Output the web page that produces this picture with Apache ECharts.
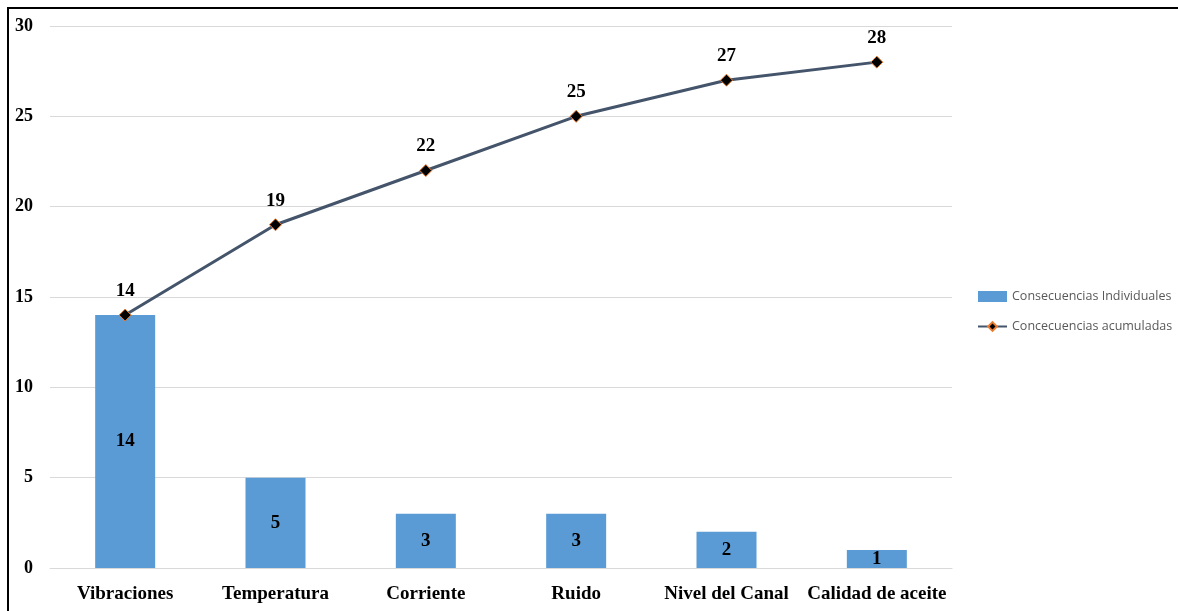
<!DOCTYPE html>
<html>
<head>
<meta charset="utf-8">
<script src="https://cdn.jsdelivr.net/npm/echarts@6/dist/echarts.min.js"></script>
<style>
  html, body { margin: 0; padding: 0; background: #fff; }
  #chart { width: 1178px; height: 611px; }
</style>
</head>
<body>
<div id="chart"></div>
<script>
// Pareto data: individual counts per cause and the running total
const categories = ['Vibraciones', 'Temperatura', 'Corriente', 'Ruido', 'Nivel del Canal', 'Calidad de aceite'];
const individual = [14, 5, 3, 3, 2, 1];
const cumulative = [14, 19, 22, 25, 27, 28];
const yTicks = [0, 5, 10, 15, 20, 25, 30];

const serif = '"Liberation Serif", "Times New Roman", serif';

const chart = echarts.init(document.getElementById('chart'), null, { renderer: 'canvas' });
chart.setOption({
  backgroundColor: '#ffffff',
  animation: false,
  graphic: [{
    type: 'polyline',
    shape: { points: [[8, 611], [8, 8], [1178, 8]] },
    style: { stroke: '#000000', lineWidth: 2, fill: null }
  }],
  grid: { left: 50, right: 226, top: 26, bottom: 43, containLabel: false },
  legend: {
    orient: 'vertical',
    left: 977,
    top: 290,
    padding: 0,
    itemGap: 17,
    itemWidth: 29,
    itemHeight: 11,
    textStyle: { fontFamily: '"Open Sans", "Liberation Sans", sans-serif', fontSize: 12.5, color: '#595959' },
    data: [
      { name: 'Consecuencias Individuales', icon: 'rect' },
      { name: 'Concecuencias acumuladas' }
    ]
  },
  xAxis: {
    type: 'category',
    data: categories,
    axisTick: { show: false },
    axisLine: { show: true, lineStyle: { color: '#D9D9D9', width: 1 } },
    axisLabel: { interval: 0, fontFamily: serif, fontWeight: 'bold', fontSize: 19, color: '#000', margin: 17 }
  },
  yAxis: {
    type: 'value',
    min: yTicks[0],
    max: yTicks[yTicks.length - 1],
    interval: 5,
    axisLine: { show: false },
    axisTick: { show: false },
    splitLine: { lineStyle: { color: '#D9D9D9', width: 1 } },
    axisLabel: { fontFamily: serif, fontWeight: 'bold', fontSize: 18, color: '#000', margin: 17 }
  },
  series: [
    {
      name: 'Consecuencias Individuales',
      type: 'bar',
      data: individual,
      barWidth: 60,
      itemStyle: { color: '#5B9BD5' },
      label: {
        show: true,
        position: 'inside',
        fontFamily: serif,
        fontWeight: 'bold',
        fontSize: 19,
        color: '#000'
      }
    },
    {
      name: 'Concecuencias acumuladas',
      type: 'line',
      data: cumulative,
      symbol: 'diamond',
      symbolSize: 12,
      lineStyle: { color: '#44546A', width: 3 },
      itemStyle: { color: '#000000', borderColor: '#ED7D31', borderWidth: 1 },
      label: {
        show: true,
        position: 'top',
        distance: 8,
        fontFamily: serif,
        fontWeight: 'bold',
        fontSize: 19,
        color: '#000'
      },
      z: 5
    }
  ]
});
</script>
</body>
</html>
